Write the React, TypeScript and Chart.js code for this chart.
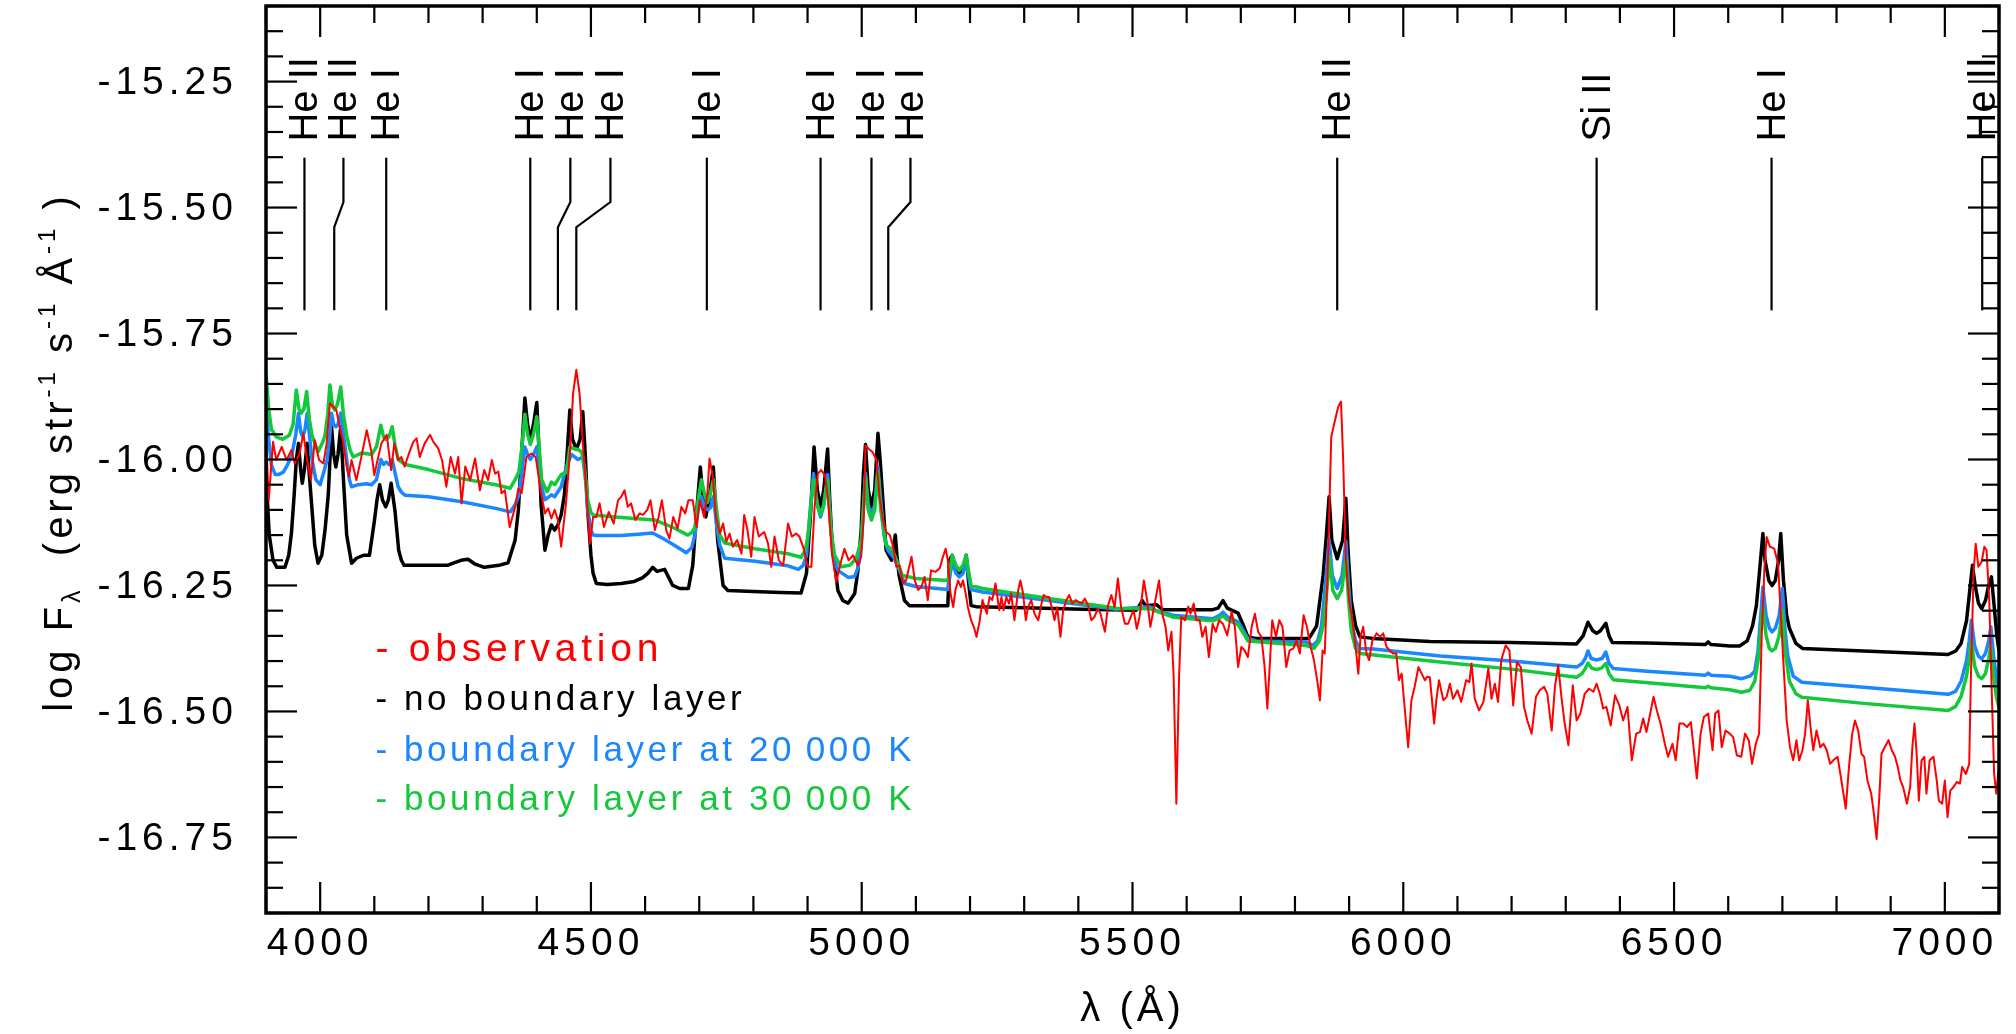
import React, { useEffect, useRef } from 'react';
import { Chart, registerables } from 'chart.js';

Chart.register(...registerables);

const FONT = '"Liberation Sans", Arial, Helvetica, sans-serif';

// ---- axes ----
const xMin = 3900;
const xMax = 7100;
const yMin = -16.9;
const yMax = -15.1;
const xTickValues = [4000, 4500, 5000, 5500, 6000, 6500, 7000];
const yTickValues = [-16.75, -16.5, -16.25, -16.0, -15.75, -15.5, -15.25];

// ---- legend ----
const seriesLabels = [
  '- observation',
  '- no boundary layer',
  '- boundary layer at 20\u2009000 K',
  '- boundary layer at 30\u2009000 K',
];
const seriesColors = ['#ff0000', '#000000', '#1a86ff', '#14c83c'];

// ---- line identifications ----
const lineIdText = ['He II', 'He II', 'He I', 'He I', 'He I', 'He I', 'He I', 'He I', 'He I', 'He I', 'He II', 'Si II', 'He I', 'He II'];
const lineIdWave = [3971, 4026, 4122, 4388, 4439, 4473, 4714, 4924, 5018, 5049, 5878, 6357, 6680, 7069];
const lineIdLabelWave = [3971, 4043, 4122, 4388, 4462, 4536, 4714, 4924, 5018, 5090, 5878, 6357, 6680, 7069];

// ---- spectra: [wavelength (Å), log F] ----
const observation: number[][] = [
  [3900, -15.95], [3901, -15.95], [3905, -16.081], [3913, -15.965], [3919, -16.001], [3929, -15.975], [3938, -16.001],
  [3947, -15.981], [3953, -16.008], [3962, -15.988], [3969, -15.948], [3975, -15.995], [3983, -16.041], [3990, -15.962],
  [3998, -16.001], [4006, -16.008], [4012, -15.968], [4018, -15.889], [4024, -15.895], [4030, -15.902], [4036, -15.935],
  [4042, -15.962], [4049, -16.014], [4053, -16.034], [4058, -16.001], [4067, -16.041], [4076, -15.995], [4086, -15.942],
  [4094, -15.981], [4100, -16.031], [4106, -16.001], [4113, -15.968], [4123, -15.951], [4131, -16.021], [4137, -15.968],
  [4144, -16.001], [4150, -15.995], [4156, -16.014], [4163, -15.991], [4172, -15.965], [4178, -15.958], [4184, -15.995],
  [4193, -15.968], [4203, -15.951], [4209, -15.965], [4218, -15.978], [4225, -16.001], [4233, -16.054], [4241, -15.995],
  [4249, -16.028], [4255, -15.995], [4261, -16.087], [4268, -16.014], [4277, -16.041], [4286, -15.998], [4295, -16.061],
  [4303, -16.021], [4310, -16.041], [4317, -16.001], [4323, -16.028], [4329, -16.024], [4335, -16.067], [4341, -16.061],
  [4350, -16.134], [4360, -16.094], [4366, -16.057], [4372, -16.067], [4381, -15.995], [4390, -15.988], [4398, -15.995],
  [4406, -16.054], [4415, -16.107], [4421, -16.097], [4427, -16.117], [4433, -16.1], [4439, -16.12], [4445, -16.173],
  [4454, -16.087], [4462, -15.975], [4467, -15.869], [4473, -15.822], [4479, -15.869], [4485, -15.968], [4491, -16.054],
  [4498, -16.167], [4504, -16.114], [4510, -16.114], [4516, -16.087], [4524, -16.134], [4533, -16.104], [4542, -16.127],
  [4550, -16.081], [4556, -16.074], [4562, -16.061], [4568, -16.094], [4574, -16.087], [4582, -16.12], [4590, -16.107],
  [4596, -16.11], [4604, -16.1], [4610, -16.081], [4618, -16.14], [4625, -16.114], [4631, -16.081], [4639, -16.14],
  [4645, -16.157], [4652, -16.114], [4660, -16.137], [4667, -16.094], [4674, -16.107], [4680, -16.081], [4688, -16.081],
  [4695, -16.134], [4701, -16.081], [4709, -16.114], [4715, -16.067], [4719, -15.998], [4725, -16.034], [4731, -16.114],
  [4738, -16.147], [4744, -16.127], [4750, -16.163], [4756, -16.147], [4762, -16.173], [4770, -16.16], [4778, -16.187],
  [4783, -16.11], [4789, -16.14], [4796, -16.193], [4802, -16.114], [4810, -16.153], [4820, -16.144], [4827, -16.167],
  [4833, -16.213], [4839, -16.153], [4847, -16.2], [4855, -16.21], [4864, -16.127], [4871, -16.153], [4879, -16.147],
  [4885, -16.153], [4893, -16.177], [4900, -16.213], [4907, -16.213], [4913, -16.094], [4919, -16.028], [4925, -16.021],
  [4932, -16.031], [4938, -16.081], [4945, -16.187], [4953, -16.243], [4961, -16.206], [4968, -16.177], [4976, -16.2],
  [4984, -16.19], [4987, -16.197], [4993, -16.21], [4999, -16.193], [5004, -16.107], [5007, -15.972], [5014, -15.98],
  [5020, -15.985], [5027, -16.0], [5033, -16.074], [5039, -16.12], [5045, -16.144], [5052, -16.15], [5058, -16.173],
  [5064, -16.213], [5070, -16.21], [5076, -16.246], [5082, -16.24], [5087, -16.216], [5092, -16.193], [5098, -16.24],
  [5104, -16.259], [5110, -16.253], [5116, -16.233], [5122, -16.279], [5128, -16.22], [5136, -16.223], [5144, -16.216],
  [5150, -16.193], [5155, -16.177], [5159, -16.2], [5164, -16.266], [5169, -16.293], [5173, -16.259], [5178, -16.24],
  [5183, -16.253], [5187, -16.24], [5192, -16.266], [5196, -16.293], [5202, -16.319], [5207, -16.332], [5212, -16.352],
  [5218, -16.319], [5223, -16.279], [5227, -16.293], [5231, -16.306], [5236, -16.273], [5241, -16.279], [5247, -16.246],
  [5254, -16.299], [5258, -16.273], [5262, -16.299], [5267, -16.273], [5272, -16.286], [5276, -16.266], [5282, -16.319],
  [5289, -16.259], [5293, -16.24], [5298, -16.266], [5303, -16.319], [5307, -16.293], [5313, -16.279], [5319, -16.306],
  [5326, -16.319], [5332, -16.286], [5336, -16.269], [5341, -16.273], [5346, -16.273], [5351, -16.293], [5356, -16.319],
  [5361, -16.293], [5367, -16.352], [5372, -16.299], [5378, -16.279], [5383, -16.269], [5389, -16.286], [5395, -16.279],
  [5401, -16.283], [5406, -16.286], [5412, -16.276], [5418, -16.289], [5424, -16.319], [5430, -16.312], [5436, -16.296],
  [5441, -16.306], [5449, -16.342], [5455, -16.289], [5461, -16.269], [5467, -16.293], [5473, -16.236], [5479, -16.293],
  [5486, -16.326], [5492, -16.326], [5498, -16.309], [5502, -16.299], [5508, -16.336], [5513, -16.312], [5521, -16.24],
  [5527, -16.279], [5533, -16.332], [5541, -16.286], [5549, -16.24], [5555, -16.306], [5561, -16.332], [5566, -16.379],
  [5572, -16.342], [5576, -16.431], [5581, -16.683], [5586, -16.431], [5590, -16.312], [5597, -16.319], [5603, -16.292],
  [5607, -16.306], [5613, -16.286], [5618, -16.319], [5624, -16.319], [5629, -16.352], [5635, -16.332], [5641, -16.392],
  [5648, -16.326], [5654, -16.342], [5660, -16.319], [5667, -16.326], [5675, -16.349], [5683, -16.302], [5689, -16.332],
  [5695, -16.412], [5701, -16.372], [5707, -16.379], [5713, -16.392], [5720, -16.332], [5726, -16.306], [5732, -16.342],
  [5738, -16.352], [5744, -16.412], [5749, -16.494], [5754, -16.398], [5758, -16.319], [5765, -16.352], [5771, -16.319],
  [5777, -16.332], [5784, -16.412], [5790, -16.379], [5797, -16.375], [5803, -16.359], [5809, -16.385], [5816, -16.309],
  [5822, -16.332], [5829, -16.372], [5835, -16.398], [5841, -16.438], [5846, -16.478], [5851, -16.379], [5855, -16.385],
  [5861, -16.2], [5867, -15.955], [5874, -15.922], [5880, -15.895], [5885, -15.885], [5889, -16.001], [5894, -16.2],
  [5900, -16.279], [5906, -16.319], [5912, -16.372], [5917, -16.425], [5921, -16.352], [5926, -16.332], [5932, -16.385],
  [5937, -16.398], [5943, -16.359], [5951, -16.345], [5957, -16.352], [5963, -16.345], [5969, -16.372], [5975, -16.379],
  [5981, -16.385], [5987, -16.385], [5992, -16.438], [5997, -16.425], [6003, -16.498], [6009, -16.571], [6015, -16.478],
  [6021, -16.451], [6028, -16.412], [6034, -16.425], [6040, -16.438], [6044, -16.431], [6049, -16.432], [6057, -16.524],
  [6061, -16.478], [6066, -16.438], [6074, -16.478], [6080, -16.471], [6086, -16.445], [6092, -16.475], [6100, -16.458],
  [6107, -16.481], [6116, -16.438], [6122, -16.442], [6126, -16.405], [6132, -16.475], [6140, -16.498], [6148, -16.481],
  [6157, -16.415], [6163, -16.475], [6169, -16.445], [6175, -16.481], [6181, -16.398], [6189, -16.369], [6196, -16.379],
  [6203, -16.488], [6210, -16.402], [6217, -16.412], [6223, -16.491], [6229, -16.518], [6237, -16.544], [6245, -16.471],
  [6252, -16.458], [6260, -16.451], [6266, -16.465], [6274, -16.538], [6280, -16.451], [6286, -16.408], [6292, -16.471],
  [6298, -16.524], [6305, -16.567], [6313, -16.448], [6320, -16.518], [6327, -16.504], [6335, -16.465], [6343, -16.455],
  [6351, -16.461], [6357, -16.445], [6363, -16.465], [6369, -16.494], [6375, -16.491], [6383, -16.528], [6391, -16.468],
  [6399, -16.488], [6406, -16.518], [6414, -16.491], [6422, -16.597], [6430, -16.544], [6437, -16.541], [6443, -16.514],
  [6449, -16.541], [6456, -16.504], [6462, -16.471], [6469, -16.501], [6475, -16.524], [6483, -16.564], [6489, -16.59],
  [6497, -16.564], [6503, -16.597], [6510, -16.524], [6517, -16.524], [6524, -16.531], [6531, -16.521], [6536, -16.571],
  [6542, -16.633], [6549, -16.544], [6555, -16.511], [6563, -16.504], [6571, -16.577], [6576, -16.504], [6582, -16.498],
  [6588, -16.571], [6595, -16.538], [6603, -16.544], [6609, -16.551], [6616, -16.587], [6624, -16.59], [6631, -16.544],
  [6638, -16.557], [6644, -16.604], [6651, -16.564], [6657, -16.544], [6662, -16.346], [6667, -16.213], [6671, -16.154],
  [6677, -16.173], [6685, -16.177], [6692, -16.207], [6697, -16.306], [6702, -16.405], [6708, -16.518], [6714, -16.571],
  [6720, -16.597], [6726, -16.557], [6731, -16.597], [6737, -16.577], [6742, -16.544], [6747, -16.478], [6752, -16.531],
  [6757, -16.577], [6763, -16.538], [6770, -16.571], [6776, -16.564], [6782, -16.577], [6788, -16.604], [6794, -16.597],
  [6802, -16.59], [6809, -16.637], [6817, -16.693], [6823, -16.61], [6829, -16.544], [6834, -16.518], [6840, -16.538],
  [6846, -16.584], [6851, -16.59], [6857, -16.637], [6864, -16.663], [6869, -16.703], [6874, -16.753], [6879, -16.67],
  [6883, -16.584], [6889, -16.571], [6896, -16.557], [6902, -16.577], [6908, -16.59], [6913, -16.61], [6918, -16.637],
  [6923, -16.65], [6930, -16.683], [6936, -16.65], [6940, -16.571], [6944, -16.524], [6948, -16.584], [6952, -16.677],
  [6957, -16.597], [6962, -16.59], [6966, -16.663], [6972, -16.597], [6979, -16.59], [6985, -16.637], [6989, -16.677],
  [6995, -16.683], [7000, -16.637], [7005, -16.71], [7010, -16.657], [7016, -16.65], [7022, -16.64], [7028, -16.643],
  [7032, -16.61], [7039, -16.624], [7045, -16.604], [7048, -16.438], [7053, -16.226], [7057, -16.167], [7062, -16.213],
  [7068, -16.203], [7073, -16.173], [7077, -16.18], [7082, -16.279], [7086, -16.438], [7091, -16.624], [7095, -16.663],
  [7099, -16.617], [7101, -16.617],
];

const noBoundaryLayer: number[][] = [
  [3900, -16.03], [3906, -16.15], [3913, -16.2], [3920, -16.214], [3935, -16.214], [3942, -16.19], [3947, -16.146],
  [3952, -16.07], [3956, -16.0], [3960, -15.968], [3964, -16.02], [3967, -16.047], [3971, -16.02], [3976, -15.968],
  [3980, -16.03], [3985, -16.1], [3990, -16.17], [3996, -16.206], [4003, -16.19], [4009, -16.14], [4015, -16.07],
  [4021, -15.935], [4025, -15.99], [4029, -16.015], [4033, -15.99], [4038, -15.935], [4043, -16.04], [4049, -16.15],
  [4058, -16.206], [4067, -16.196], [4080, -16.19], [4091, -16.19], [4100, -16.123], [4105, -16.08], [4110, -16.05],
  [4115, -16.08], [4121, -16.094], [4126, -16.08], [4131, -16.047], [4138, -16.1], [4145, -16.18], [4150, -16.2],
  [4155, -16.21], [4235, -16.21], [4247, -16.205], [4260, -16.2], [4273, -16.198], [4285, -16.207], [4303, -16.214],
  [4330, -16.21], [4347, -16.205], [4360, -16.16], [4366, -16.1], [4373, -15.97], [4378, -15.878], [4383, -15.93],
  [4388, -15.96], [4394, -15.93], [4400, -15.887], [4404, -15.98], [4408, -16.09], [4415, -16.18], [4421, -16.15],
  [4427, -16.13], [4433, -16.14], [4439, -16.13], [4445, -16.11], [4451, -16.07], [4456, -15.99], [4461, -15.902],
  [4466, -15.96], [4473, -15.98], [4480, -15.96], [4485, -15.905], [4490, -16.0], [4494, -16.1], [4500, -16.19],
  [4504, -16.226], [4510, -16.246], [4530, -16.248], [4556, -16.246], [4580, -16.242], [4595, -16.235], [4605, -16.226],
  [4614, -16.214], [4622, -16.222], [4636, -16.218], [4644, -16.235], [4651, -16.25], [4664, -16.256], [4680, -16.256],
  [4688, -16.21], [4694, -16.12], [4702, -16.015], [4707, -16.08], [4712, -16.114], [4718, -16.08], [4726, -16.015],
  [4730, -16.09], [4734, -16.16], [4744, -16.25], [4753, -16.26], [4800, -16.262], [4850, -16.264], [4888, -16.265],
  [4898, -16.226], [4906, -16.1], [4912, -15.975], [4918, -16.06], [4924, -16.094], [4930, -16.06], [4937, -15.979],
  [4941, -16.08], [4945, -16.16], [4956, -16.26], [4965, -16.28], [4975, -16.285], [4987, -16.266], [4993, -16.22],
  [4999, -16.14], [5003, -16.03], [5007, -15.97], [5012, -16.06], [5018, -16.094], [5024, -16.06], [5030, -15.948],
  [5034, -16.0], [5039, -16.08], [5045, -16.18], [5055, -16.2], [5059, -16.17], [5062, -16.15], [5065, -16.19],
  [5069, -16.23], [5079, -16.28], [5088, -16.29], [5159, -16.29], [5162, -16.2], [5167, -16.19], [5174, -16.22],
  [5180, -16.23], [5187, -16.22], [5193, -16.19], [5197, -16.24], [5202, -16.29], [5211, -16.292], [5300, -16.294],
  [5408, -16.297], [5507, -16.299], [5513, -16.29], [5518, -16.28], [5524, -16.29], [5544, -16.288], [5556, -16.298],
  [5648, -16.298], [5658, -16.295], [5667, -16.28], [5675, -16.295], [5685, -16.3], [5695, -16.305], [5705, -16.33],
  [5713, -16.352], [5728, -16.355], [5826, -16.355], [5840, -16.33], [5852, -16.23], [5858, -16.15], [5863, -16.074],
  [5868, -16.16], [5878, -16.197], [5888, -16.16], [5894, -16.077], [5898, -16.18], [5904, -16.28], [5912, -16.33],
  [5920, -16.352], [5944, -16.355], [6049, -16.361], [6200, -16.363], [6320, -16.366], [6332, -16.35], [6341, -16.323],
  [6350, -16.34], [6357, -16.345], [6364, -16.34], [6374, -16.325], [6380, -16.35], [6386, -16.363], [6450, -16.364],
  [6558, -16.367], [6563, -16.362], [6568, -16.367], [6603, -16.37], [6621, -16.37], [6635, -16.36], [6645, -16.33],
  [6652, -16.29], [6658, -16.22], [6664, -16.147], [6668, -16.2], [6675, -16.24], [6681, -16.25], [6687, -16.24],
  [6693, -16.2], [6697, -16.147], [6702, -16.24], [6708, -16.31], [6713, -16.335], [6725, -16.365], [6737, -16.375],
  [6850, -16.38], [7006, -16.387], [7020, -16.38], [7030, -16.365], [7040, -16.32], [7046, -16.26], [7051, -16.21],
  [7056, -16.25], [7062, -16.285], [7068, -16.296], [7075, -16.28], [7081, -16.25], [7086, -16.233], [7091, -16.29],
  [7096, -16.35], [7100, -16.38],
];

const boundaryLayer20k: number[][] = [
  [3900, -15.89], [3905, -15.96], [3910, -16.01], [3917, -16.03], [3923, -16.03], [3932, -16.025], [3940, -16.01],
  [3948, -15.99], [3955, -15.95], [3960, -15.908], [3964, -15.945], [3968, -15.955], [3972, -15.94], [3976, -15.908],
  [3981, -15.96], [3985, -16.0], [3992, -16.04], [4000, -16.05], [4008, -16.02], [4013, -16.0], [4018, -15.95],
  [4021, -15.908], [4025, -15.93], [4029, -15.935], [4033, -15.93], [4038, -15.908], [4043, -15.95], [4049, -16.0],
  [4054, -16.04], [4058, -16.054], [4070, -16.05], [4085, -16.048], [4095, -16.05], [4104, -16.04], [4112, -16.0],
  [4117, -16.01], [4122, -16.005], [4127, -16.01], [4133, -16.0], [4139, -16.03], [4144, -16.054], [4150, -16.065],
  [4157, -16.071], [4200, -16.074], [4262, -16.084], [4324, -16.097], [4351, -16.104], [4360, -16.09], [4367, -16.07],
  [4373, -16.02], [4378, -15.975], [4383, -15.99], [4388, -16.0], [4394, -15.99], [4400, -15.975], [4404, -16.01],
  [4408, -16.05], [4415, -16.08], [4421, -16.075], [4427, -16.07], [4433, -16.074], [4445, -16.054], [4455, -16.014],
  [4464, -15.99], [4470, -15.995], [4476, -16.0], [4485, -15.995], [4490, -16.04], [4494, -16.1], [4500, -16.14],
  [4504, -16.15], [4513, -16.151], [4556, -16.151], [4593, -16.148], [4614, -16.146], [4630, -16.155], [4654, -16.17],
  [4676, -16.185], [4686, -16.175], [4692, -16.15], [4698, -16.1], [4704, -16.074], [4710, -16.095], [4716, -16.1],
  [4721, -16.095], [4726, -16.074], [4732, -16.13], [4738, -16.17], [4747, -16.196], [4803, -16.202], [4864, -16.211],
  [4883, -16.218], [4892, -16.21], [4898, -16.19], [4905, -16.1], [4911, -16.028], [4918, -16.09], [4924, -16.114],
  [4930, -16.09], [4937, -16.03], [4942, -16.12], [4947, -16.19], [4956, -16.22], [4975, -16.234], [4987, -16.232],
  [4993, -16.215], [4999, -16.174], [5003, -16.1], [5007, -16.028], [5012, -16.09], [5018, -16.11], [5024, -16.09],
  [5030, -16.015], [5035, -16.08], [5041, -16.15], [5048, -16.18], [5060, -16.196], [5070, -16.22], [5079, -16.246],
  [5100, -16.252], [5159, -16.258], [5163, -16.23], [5167, -16.203], [5174, -16.226], [5180, -16.233], [5187, -16.226],
  [5193, -16.203], [5197, -16.23], [5202, -16.258], [5223, -16.263], [5346, -16.28], [5470, -16.297], [5531, -16.292],
  [5544, -16.3], [5575, -16.309], [5648, -16.316], [5660, -16.31], [5667, -16.303], [5675, -16.312], [5695, -16.322],
  [5705, -16.34], [5713, -16.355], [5728, -16.36], [5820, -16.362], [5833, -16.369], [5842, -16.36], [5849, -16.33],
  [5856, -16.25], [5863, -16.159], [5869, -16.23], [5878, -16.256], [5887, -16.23], [5894, -16.162], [5899, -16.25],
  [5904, -16.32], [5912, -16.36], [5920, -16.375], [5945, -16.376], [6068, -16.39], [6200, -16.4], [6320, -16.412],
  [6330, -16.405], [6336, -16.395], [6341, -16.38], [6347, -16.395], [6357, -16.398], [6367, -16.395], [6374, -16.382],
  [6380, -16.405], [6388, -16.415], [6450, -16.42], [6558, -16.428], [6563, -16.424], [6568, -16.428], [6603, -16.43],
  [6625, -16.435], [6640, -16.43], [6649, -16.42], [6655, -16.38], [6660, -16.31], [6664, -16.253], [6670, -16.31],
  [6676, -16.335], [6681, -16.342], [6687, -16.335], [6694, -16.31], [6700, -16.256], [6705, -16.34], [6710, -16.39],
  [6720, -16.43], [6736, -16.442], [6850, -16.452], [7006, -16.466], [7020, -16.46], [7030, -16.44], [7040, -16.4],
  [7045, -16.36], [7049, -16.319], [7055, -16.37], [7062, -16.39], [7068, -16.396], [7075, -16.385], [7081, -16.36],
  [7085, -16.332], [7090, -16.39], [7095, -16.43], [7100, -16.455],
];

const boundaryLayer30k: number[][] = [
  [3900, -15.829], [3905, -15.9], [3910, -15.94], [3919, -15.955], [3931, -15.96], [3943, -15.952], [3950, -15.93],
  [3956, -15.862], [3961, -15.9], [3965, -15.908], [3970, -15.9], [3975, -15.865], [3980, -15.92], [3985, -15.952],
  [3996, -15.985], [4005, -15.965], [4009, -15.952], [4014, -15.91], [4018, -15.852], [4023, -15.895], [4027, -15.902],
  [4032, -15.89], [4038, -15.856], [4043, -15.91], [4049, -15.952], [4055, -15.98], [4061, -15.995], [4077, -15.987],
  [4095, -15.99], [4104, -15.975], [4112, -15.932], [4117, -15.955], [4121, -15.96], [4127, -15.955], [4133, -15.935],
  [4138, -15.97], [4144, -16.0], [4157, -16.01], [4200, -16.02], [4262, -16.038], [4324, -16.05], [4351, -16.057],
  [4360, -16.04], [4367, -16.025], [4373, -15.97], [4378, -15.91], [4383, -15.95], [4388, -15.97], [4394, -15.95],
  [4400, -15.915], [4404, -15.97], [4409, -16.04], [4419, -16.064], [4427, -16.045], [4433, -16.05], [4445, -16.03],
  [4455, -16.025], [4461, -15.975], [4467, -15.978], [4476, -15.98], [4483, -15.985], [4488, -16.015], [4494, -16.08],
  [4500, -16.105], [4504, -16.11], [4556, -16.115], [4617, -16.12], [4648, -16.133], [4679, -16.15], [4686, -16.145],
  [4692, -16.135], [4698, -16.08], [4704, -16.04], [4710, -16.07], [4715, -16.085], [4720, -16.07], [4726, -16.04],
  [4732, -16.1], [4738, -16.15], [4747, -16.166], [4803, -16.177], [4864, -16.187], [4888, -16.194], [4896, -16.18],
  [4901, -16.15], [4906, -16.09], [4911, -16.04], [4918, -16.09], [4924, -16.11], [4930, -16.09], [4937, -16.04],
  [4943, -16.14], [4950, -16.19], [4962, -16.213], [4978, -16.21], [4990, -16.196], [4999, -16.16], [5003, -16.1],
  [5007, -16.035], [5012, -16.1], [5018, -16.12], [5024, -16.1], [5030, -16.025], [5035, -16.1], [5045, -16.17],
  [5057, -16.18], [5066, -16.205], [5075, -16.23], [5100, -16.236], [5159, -16.24], [5163, -16.22], [5167, -16.19],
  [5174, -16.21], [5180, -16.22], [5187, -16.21], [5193, -16.19], [5197, -16.22], [5202, -16.25], [5223, -16.256],
  [5346, -16.276], [5470, -16.295], [5531, -16.296], [5575, -16.313], [5648, -16.32], [5660, -16.315], [5667, -16.31],
  [5675, -16.318], [5695, -16.328], [5705, -16.345], [5713, -16.36], [5820, -16.369], [5835, -16.375], [5845, -16.36],
  [5852, -16.33], [5858, -16.27], [5864, -16.194], [5870, -16.26], [5878, -16.276], [5886, -16.26], [5894, -16.197],
  [5899, -16.28], [5904, -16.34], [5912, -16.375], [5920, -16.385], [6068, -16.402], [6200, -16.416], [6320, -16.432],
  [6330, -16.425], [6336, -16.415], [6341, -16.404], [6348, -16.414], [6357, -16.417], [6366, -16.414], [6374, -16.405],
  [6380, -16.425], [6388, -16.437], [6558, -16.453], [6563, -16.45], [6568, -16.453], [6603, -16.457], [6625, -16.462],
  [6640, -16.458], [6649, -16.44], [6655, -16.4], [6660, -16.34], [6664, -16.293], [6670, -16.35], [6676, -16.375],
  [6681, -16.38], [6687, -16.375], [6694, -16.35], [6700, -16.3], [6705, -16.38], [6713, -16.44], [6725, -16.465],
  [6736, -16.472], [6850, -16.484], [7006, -16.498], [7020, -16.49], [7030, -16.47], [7040, -16.43], [7045, -16.395],
  [7049, -16.359], [7055, -16.41], [7062, -16.43], [7068, -16.435], [7075, -16.425], [7081, -16.395], [7085, -16.37],
  [7090, -16.43], [7095, -16.47], [7100, -16.494],
];

const toPoints = (arr: number[][]) => arr.map(([x, y]) => ({ x, y }));

type Seg = { t: string; s: number; dy?: number };

function setSpacing(ctx: any, px: number) {
  if ('letterSpacing' in ctx) ctx.letterSpacing = `${px}px`;
}

function drawRich(ctx: CanvasRenderingContext2D, segs: Seg[], spacing: number) {
  let total = 0;
  setSpacing(ctx, spacing);
  const widths = segs.map((sg) => {
    ctx.font = `${sg.s}px ${FONT}`;
    const w = ctx.measureText(sg.t).width;
    total += w;
    return w;
  });
  let cx = -total / 2;
  ctx.textAlign = 'left';
  ctx.textBaseline = 'alphabetic';
  segs.forEach((sg, i) => {
    ctx.font = `${sg.s}px ${FONT}`;
    ctx.fillText(sg.t, cx, sg.dy || 0);
    cx += widths[i];
  });
  setSpacing(ctx, 0);
}

const decorPlugin = {
  id: 'decor',
  beforeDraw(chart: any) {
    setSpacing(chart.ctx, 5);
  },
  beforeDatasetsDraw(chart: any) {
    setSpacing(chart.ctx, 0);
  },
  afterDraw(chart: any) {
    const { ctx, chartArea: a } = chart;
    const xs = chart.scales.x;
    const ys = chart.scales.y;
    ctx.save();
    setSpacing(ctx, 0);
    ctx.strokeStyle = '#000';
    ctx.fillStyle = '#000';
    ctx.lineCap = 'butt';

    const seg = (x1: number, y1: number, x2: number, y2: number) => {
      ctx.beginPath();
      ctx.moveTo(x1, y1);
      ctx.lineTo(x2, y2);
      ctx.stroke();
    };

    // ticks (inward, all four sides)
    ctx.lineWidth = 2.2;
    for (let k = 39; k <= 71; k++) {
      const v = k * 100;
      const px = xs.getPixelForValue(v);
      const len = v % 500 === 0 ? 31 : 17;
      seg(px, a.bottom, px, a.bottom - len);
      seg(px, a.top, px, a.top + len);
    }
    for (let k = -338; k <= -302; k++) {
      const v = k * 0.05;
      const py = ys.getPixelForValue(v);
      const len = k % 5 === 0 ? 31 : 17;
      seg(a.left, py, a.left + len, py);
      seg(a.right, py, a.right - len, py);
    }

    // frame
    ctx.lineWidth = 3.5;
    ctx.strokeRect(a.left, a.top, a.right - a.left, a.bottom - a.top);

    // line identifications
    const yText = ys.getPixelForValue(-15.369);
    const yC0 = ys.getPixelForValue(-15.401);
    const yC1 = ys.getPixelForValue(-15.489);
    const yC2 = ys.getPixelForValue(-15.539);
    const yC3 = ys.getPixelForValue(-15.704);
    ctx.lineWidth = 2.2;
    lineIdText.forEach((t, i) => {
      const lx = xs.getPixelForValue(lineIdLabelWave[i]);
      const wx = xs.getPixelForValue(lineIdWave[i]);
      ctx.beginPath();
      ctx.moveTo(lx, yC0);
      ctx.lineTo(lx, yC1);
      ctx.lineTo(wx, yC2);
      ctx.lineTo(wx, yC3);
      ctx.stroke();
      ctx.save();
      ctx.translate(lx, yText);
      ctx.rotate(-Math.PI / 2);
      ctx.font = `40px ${FONT}`;
      ctx.textAlign = 'left';
      ctx.textBaseline = 'alphabetic';
      ctx.fillText(t, 0, 13);
      ctx.restore();
    });

    // legend (text only)
    const legendX = xs.getPixelForValue(4102);
    const legendY = [-16.4007, -16.4973, -16.5976, -16.6949];
    seriesLabels.forEach((t, i) => {
      ctx.fillStyle = seriesColors[i];
      ctx.font = `${i === 0 ? 39 : 35}px ${FONT}`;
      setSpacing(ctx, i === 0 ? 4.8 : 3.6);
      ctx.textAlign = 'left';
      ctx.textBaseline = 'alphabetic';
      ctx.fillText(t, legendX, ys.getPixelForValue(legendY[i]));
    });
    setSpacing(ctx, 0);

    // axis titles
    ctx.fillStyle = '#000';
    ctx.save();
    ctx.translate((a.left + a.right) / 2, 1021);
    drawRich(ctx, [{ t: 'λ (Å)', s: 40 }], 4);
    ctx.restore();

    ctx.save();
    ctx.translate(72, 452);
    ctx.rotate(-Math.PI / 2);
    drawRich(
      ctx,
      [
        { t: 'log F', s: 40 },
        { t: 'λ', s: 25, dy: 8 },
        { t: '  (erg str', s: 40 },
        { t: '-1', s: 24, dy: -17 },
        { t: ' s', s: 40 },
        { t: '-1', s: 24, dy: -17 },
        { t: ' Å', s: 40 },
        { t: '-1', s: 24, dy: -17 },
        { t: ' )', s: 40 },
      ],
      4
    );
    ctx.restore();
    ctx.restore();
  },
};

export default function App() {
  const canvasRef = useRef<HTMLCanvasElement | null>(null);

  useEffect(() => {
    document.body.style.margin = '0';
    const canvas = canvasRef.current;
    if (!canvas) return;
    const chart = new Chart(canvas, {
      type: 'line',
      data: {
        datasets: [
          { label: 'observation', data: toPoints(observation), borderColor: seriesColors[0], borderWidth: 2, order: 0 },
          { label: 'boundary layer at 30 000 K', data: toPoints(boundaryLayer30k), borderColor: seriesColors[3], borderWidth: 3.5, order: 1 },
          { label: 'boundary layer at 20 000 K', data: toPoints(boundaryLayer20k), borderColor: seriesColors[2], borderWidth: 3.5, order: 2 },
          { label: 'no boundary layer', data: toPoints(noBoundaryLayer), borderColor: seriesColors[1], borderWidth: 3.5, order: 3 },
        ].map((d) => ({ ...d, pointRadius: 0, tension: 0, fill: false, borderJoinStyle: 'round' as const })),
      },
      options: {
        animation: false,
        responsive: false,
        devicePixelRatio: 1,
        layout: { padding: { top: 6, right: 17, left: 0, bottom: 0 } },
        plugins: { legend: { display: false }, tooltip: { enabled: false } },
        scales: {
          x: {
            type: 'linear',
            min: xMin,
            max: xMax,
            afterBuildTicks: (s: any) => {
              s.ticks = xTickValues.map((value) => ({ value }));
            },
            afterFit: (s: any) => {
              s.height = 121;
              s.paddingLeft = 0;
              s.paddingRight = 0;
            },
            grid: { display: false, drawTicks: false },
            border: { display: false },
            ticks: {
              font: { family: FONT, size: 39 },
              color: '#000',
              padding: 8,
              maxRotation: 0,
              autoSkip: false,
              callback: (v: any) => String(v),
            },
          },
          y: {
            type: 'linear',
            min: yMin,
            max: yMax,
            afterBuildTicks: (s: any) => {
              s.ticks = yTickValues.map((value) => ({ value }));
            },
            afterFit: (s: any) => {
              s.width = 266;
              s.paddingTop = 0;
              s.paddingBottom = 0;
            },
            grid: { display: false, drawTicks: false },
            border: { display: false },
            ticks: {
              font: { family: FONT, size: 39 },
              color: '#000',
              padding: 28,
              labelOffset: 2,
              autoSkip: false,
              callback: (v: any) => Number(v).toFixed(2),
            },
          },
        },
      },
      plugins: [decorPlugin],
    });
    return () => chart.destroy();
  }, []);

  return (
    <div style={{ width: 2016, height: 1034, background: '#fff' }}>
      <canvas ref={canvasRef} width={2016} height={1034} style={{ display: 'block', width: 2016, height: 1034 }} />
    </div>
  );
}
